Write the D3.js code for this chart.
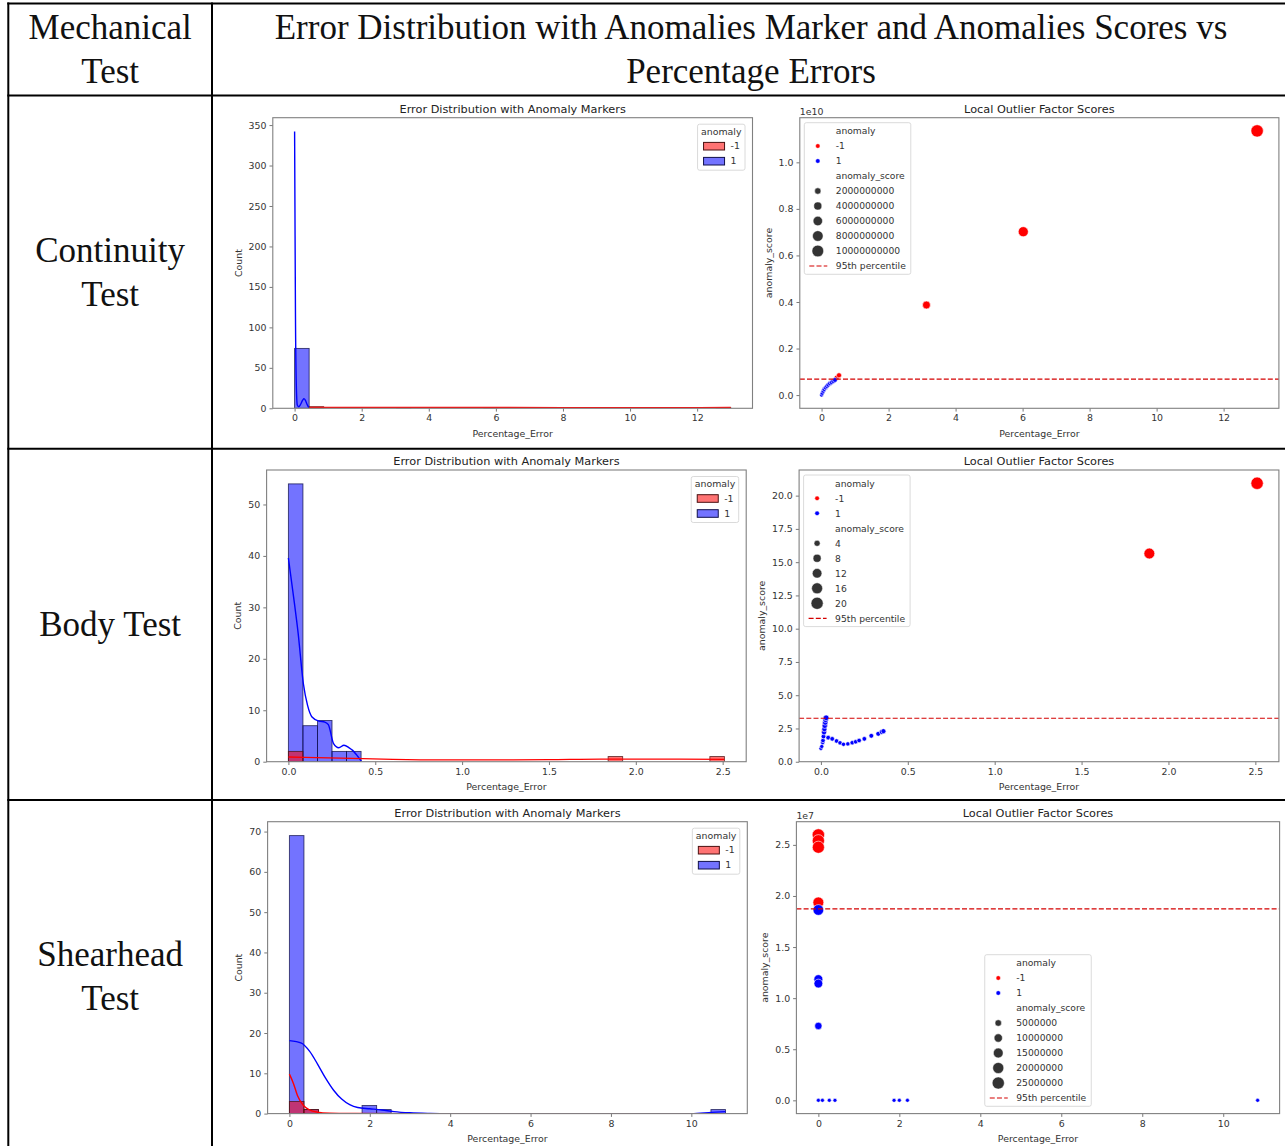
<!DOCTYPE html>
<html>
<head>
<meta charset="utf-8">
<script src="https://cdn.jsdelivr.net/npm/d3@7"></script>
<style>
body { margin: 0; background: #fff; }
</style>
</head>
<body>
<script>
// ---------- table text ----------
var headerLeft = ["Mechanical", "Test"];
var headerRight = ["Error Distribution with Anomalies Marker and Anomalies Scores vs", "Percentage Errors"];
var testNames = [["Continuity", "Test"], ["Body Test"], ["Shearhead", "Test"]];

var histTitle = "Error Distribution with Anomaly Markers";
var scatterTitle = "Local Outlier Factor Scores";
var hueLevels = ["-1", "1"];

// ---------- continuity test ----------
var contBinRange = [0, 13.0];
var contNormalCounts  = [74,0,0,0,0,0,0,0,0,0,0,0,0,0,0,0,0,0,0,0,0,0,0,0,0,0,0,0,0,0];
var contAnomalyCounts = [0,2,0,0,0,0,0,1,0,0,0,0,0,1,0,0,0,0,0,0,0,0,0,0,0,0,0,0,0,1];
var contNormalKdeX = [0, 0.01, 0.025, 0.05, 0.08, 0.12, 0.18, 0.24, 0.28, 0.32, 0.37, 0.42];
var contNormalKdeY = [342, 250, 120, 30, 4, 2, 5, 10, 12, 10, 5, 1];
var contAnomalyKdeX = [0.45, 1.5, 3.13, 4.5, 6.0, 8.0, 10.0, 12.0, 13.0];
var contAnomalyKdeY = [1.2, 1.0, 1.1, 0.9, 1.0, 0.8, 0.7, 0.8, 0.9];
var contHistXTicks = [0, 2, 4, 6, 8, 10, 12];
var contHistYTicks = [0, 50, 100, 150, 200, 250, 300, 350];

var contNormalErr   = [0, 0.02, 0.05, 0.08, 0.12, 0.16, 0.2, 0.25, 0.3, 0.35, 0.4];
var contNormalScore = [0, 0.8e8, 1.7e8, 2.5e8, 3.2e8, 3.8e8, 4.4e8, 5.0e8, 5.5e8, 6.0e8, 6.5e8];
var contAnomalyErr   = [0.45, 0.52, 3.13, 6.02, 13.0];
var contAnomalyScore = [7.5e8, 8.5e8, 3.87e9, 7.02e9, 1.135e10];
var contThreshold = 6.9e8;
var contSizeLegend = [2000000000, 4000000000, 6000000000, 8000000000, 10000000000];
var contScatterXTicks = [0, 2, 4, 6, 8, 10, 12];
var contScatterYTicks = [0, 2e9, 4e9, 6e9, 8e9, 1e10];

// ---------- body test ----------
var bodyBinRange = [0, 2.51];
var bodyNormalCounts  = [54,7,8,2,2,0,0,0,0,0,0,0,0,0,0,0,0,0,0,0,0,0,0,0,0,0,0,0,0,0];
var bodyAnomalyCounts = [2,0,0,0,0,0,0,0,0,0,0,0,0,0,0,0,0,0,0,0,0,0,1,0,0,0,0,0,0,1];
var bodyNormalKdeX = [0, 0.03, 0.056, 0.086, 0.11, 0.136, 0.176, 0.21, 0.23, 0.26, 0.29, 0.32, 0.35, 0.37, 0.40, 0.42];
var bodyNormalKdeY = [39.6, 32, 25, 15.2, 11, 8.7, 7.9, 7.7, 7.2, 3.5, 2.7, 3.2, 2.7, 2.2, 1.0, 0.1];
var bodyAnomalyKdeX = [0, 0.3, 0.6, 0.9, 1.2, 1.5, 1.8, 2.1, 2.51];
var bodyAnomalyKdeY = [0.9, 0.7, 0.45, 0.35, 0.35, 0.4, 0.5, 0.5, 0.45];
var bodyHistXTicks = [0, 0.5, 1.0, 1.5, 2.0, 2.5];
var bodyHistYTicks = [0, 10, 20, 30, 40, 50];

var bodyNormalErr   = [0.0, 0.005, 0.01, 0.012, 0.015, 0.018, 0.02, 0.022, 0.025, 0.027, 0.03, 0.042, 0.065, 0.09, 0.11, 0.13, 0.155, 0.18, 0.2, 0.22, 0.25, 0.29, 0.33, 0.35, 0.36];
var bodyNormalScore = [1.0, 1.15, 1.45, 1.6, 1.9, 2.2, 2.45, 2.7, 2.95, 3.15, 3.3, 1.81, 1.72, 1.56, 1.42, 1.31, 1.34, 1.43, 1.5, 1.6, 1.72, 1.95, 2.1, 2.24, 2.3];
var bodyAnomalyErr   = [0.018, 0.022, 1.89, 2.51];
var bodyAnomalyScore = [2.3, 2.75, 15.65, 20.93];
var bodyThreshold = 3.27;
var bodySizeLegend = [4, 8, 12, 16, 20];
var bodyScatterXTicks = [0, 0.5, 1.0, 1.5, 2.0, 2.5];
var bodyScatterYTicks = [0, 2.5, 5, 7.5, 10, 12.5, 15, 17.5, 20];

// ---------- shearhead test ----------
var shearBinRange = [0, 10.85];
var shearNormalCounts  = [69,1,0,0,0,2,1,0,0,0,0,0,0,0,0,0,0,0,0,0,0,0,0,0,0,0,0,0,0,1];
var shearAnomalyCounts = [3,1,0,0,0,0,0,0,0,0,0,0,0,0,0,0,0,0,0,0,0,0,0,0,0,0,0,0,0,0];
var shearNormalKdeX = [0, 0.3, 0.5, 0.7, 0.9, 1.1, 1.3, 1.5, 1.7, 2.0, 2.3, 2.6, 3.0, 3.5, 4.0, 10.0, 10.5, 10.85];
var shearNormalKdeY = [18.1, 17.5, 15.5, 12.3, 8.8, 5.8, 3.6, 2.2, 1.5, 1.2, 0.9, 0.5, 0.2, 0.05, 0, 0, 0.3, 0.5];
var shearAnomalyKdeX = [0, 0.1, 0.2, 0.35, 0.5, 0.7, 1.0, 1.5, 3.0, 10.85];
var shearAnomalyKdeY = [9.8, 7.5, 4.5, 2.0, 0.9, 0.35, 0.1, 0.02, 0, 0];
var shearHistXTicks = [0, 2, 4, 6, 8, 10];
var shearHistYTicks = [0, 10, 20, 30, 40, 50, 60, 70];

var shearNormalErr   = [0, 0, 0, 0, 0, 0.1, 0.27, 0.41, 1.87, 2.0, 2.2, 10.85];
var shearNormalScore = [1.863e7, 1.186e7, 1.143e7, 0.728e7, 0, 0, 0, 0, 0, 0, 0, 0];
var shearAnomalyErr   = [0, 0, 0, 0];
var shearAnomalyScore = [2.597e7, 2.54e7, 2.477e7, 1.937e7];
var shearThreshold = 1.874e7;
var shearSizeLegend = [5000000, 10000000, 15000000, 20000000, 25000000];
var shearScatterXTicks = [0, 2, 4, 6, 8, 10];
var shearScatterYTicks = [0, 5e6, 1e7, 1.5e7, 2e7, 2.5e7];

// ---------- page ----------
var W = 1285, H = 1146;
var serif = "'Liberation Serif', 'Times New Roman', serif";
var sans = "'DejaVu Sans', sans-serif";
var hueColor = {"-1": "red", "1": "blue"};

var svg = d3.select("body").append("svg").attr("width", W).attr("height", H);
svg.append("rect").attr("width", W).attr("height", H).attr("fill", "#fff");

// table grid
var colX = [8.3, 212, 1290];
var rowY = [3.5, 95.5, 448.7, 800, 1153];

function cellText(lines, cx, y0, y1) {
    var cy = (y0 + y1) / 2;
    lines.forEach(function(t, i) {
        svg.append("text")
            .attr("x", cx)
            .attr("y", cy + 11.5 - (lines.length - 1) * 22 + i * 44)
            .attr("text-anchor", "middle")
            .style("font-family", serif)
            .style("font-size", "35px")
            .attr("fill", "#111")
            .text(t);
    });
}

cellText(headerLeft, (colX[0] + colX[1]) / 2, rowY[0], rowY[1]);
cellText(headerRight, (colX[1] + colX[2]) / 2, rowY[0], rowY[1]);
testNames.forEach(function(lines, i) {
    cellText(lines, (colX[0] + colX[1]) / 2, rowY[i + 1], rowY[i + 2]);
});

var clipCount = 0;

function styleAxis(g) {
    g.select(".domain").remove();
    g.selectAll(".tick line").attr("stroke", "#555").attr("stroke-width", 0.8);
    g.selectAll(".tick text")
        .attr("fill", "#333")
        .style("font-family", sans)
        .style("font-size", "9.4px");
}

function addClip(box) {
    var id = "clip" + (clipCount++);
    svg.append("clipPath").attr("id", id).append("rect")
        .attr("x", box.left).attr("y", box.top)
        .attr("width", box.right - box.left).attr("height", box.bottom - box.top);
    return "url(#" + id + ")";
}

function axesDecor(box, x, y, p, kind) {
    var xAxis = d3.axisBottom(x).tickValues(p[kind + "XTicks"])
        .tickFormat(d3.format(p[kind + "FmtX"])).tickSize(3.3).tickPadding(3);
    var gx = svg.append("g").attr("transform", "translate(0," + box.bottom + ")").call(xAxis);
    styleAxis(gx);

    var div = kind == "scat" && p.offset ? p.offset : 1;
    var yAxis = d3.axisLeft(y).tickValues(p[kind + "YTicks"])
        .tickFormat(function(v) { return d3.format(p[kind + "FmtY"])(v / div); })
        .tickSize(3.3).tickPadding(3);
    var gy = svg.append("g").attr("transform", "translate(" + box.left + ",0)").call(yAxis);
    styleAxis(gy);
    var bb = gy.node().getBBox();

    // spines
    svg.append("rect")
        .attr("x", box.left).attr("y", box.top)
        .attr("width", box.right - box.left).attr("height", box.bottom - box.top)
        .attr("fill", "none").attr("stroke", "#808080").attr("stroke-width", 1.1);

    // title and labels
    svg.append("text")
        .attr("x", (box.left + box.right) / 2).attr("y", box.top - 5)
        .attr("text-anchor", "middle").attr("fill", "#222")
        .style("font-family", sans).style("font-size", "11.3px")
        .text(kind == "hist" ? histTitle : scatterTitle);
    svg.append("text")
        .attr("x", (box.left + box.right) / 2).attr("y", box.bottom + 28.5)
        .attr("text-anchor", "middle").attr("fill", "#333")
        .style("font-family", sans).style("font-size", "9.4px")
        .text("Percentage_Error");
    var lx = box.left + bb.x - 7;
    svg.append("text")
        .attr("transform", "translate(" + lx + "," + ((box.top + box.bottom) / 2) + ") rotate(-90)")
        .attr("text-anchor", "middle").attr("fill", "#333")
        .style("font-family", sans).style("font-size", "9.4px")
        .text(kind == "hist" ? "Count" : "anomaly_score");

    if (kind == "scat" && p.offsetLabel) {
        svg.append("text")
            .attr("x", box.left).attr("y", box.top - 3)
            .attr("fill", "#333")
            .style("font-family", sans).style("font-size", "9.4px")
            .text(p.offsetLabel);
    }
}

function drawHist(p) {
    var box = {left: p.hist[0], right: p.hist[1], top: p.top, bottom: p.bottom};
    var span = p.binRange[1] - p.binRange[0];
    var nb = p.normalCounts.length, bw = span / nb;
    var x = d3.scaleLinear()
        .domain([p.binRange[0] - span * 0.05, p.binRange[1] + span * 0.05])
        .range([box.left, box.right]);
    var ymax = d3.max([].concat(p.normalCounts, p.anomalyCounts, p.normalKdeY, p.anomalyKdeY)) * 1.05;
    var y = d3.scaleLinear().domain([0, ymax]).range([box.bottom, box.top]);

    var plot = svg.append("g").attr("clip-path", addClip(box));

    // blue layer first, red drawn on top
    [[p.normalCounts, "blue", "#10104a"], [p.anomalyCounts, "red", "#4a1010"]].forEach(function(layer) {
        var bins = layer[0].map(function(c, i) {
            return {x0: p.binRange[0] + i * bw, x1: p.binRange[0] + (i + 1) * bw, c: c};
        }).filter(function(b) { return b.c > 0; });
        plot.selectAll(null).data(bins).enter().append("rect")
            .attr("x", function(b) { return x(b.x0); })
            .attr("width", function(b) { return x(b.x1) - x(b.x0); })
            .attr("y", function(b) { return y(b.c); })
            .attr("height", function(b) { return y(0) - y(b.c); })
            .attr("fill", layer[1]).attr("fill-opacity", 0.55)
            .attr("stroke", layer[2]).attr("stroke-opacity", 0.8).attr("stroke-width", 0.9);
    });

    var line = d3.line()
        .x(function(d) { return x(d[0]); })
        .y(function(d) { return y(d[1]); })
        .curve(d3.curveMonotoneX);
    [[p.normalKdeX, p.normalKdeY, "blue"], [p.anomalyKdeX, p.anomalyKdeY, "red"]].forEach(function(k) {
        plot.append("path")
            .attr("d", line(d3.zip(k[0], k[1])))
            .attr("fill", "none").attr("stroke", k[2]).attr("stroke-width", 1.4);
    });

    axesDecor(box, x, y, p, "hist");

    // legend
    var lg = svg.append("g");
    var frame = lg.append("rect");
    var t = lg.append("text").attr("text-anchor", "middle").attr("fill", "#333")
        .style("font-family", sans).style("font-size", "9.4px").text("anomaly");
    var w = t.node().getComputedTextLength() + 7;
    var lx = box.right - 7.5 - w, ly = box.top + 6.5;
    frame.attr("x", lx).attr("y", ly).attr("width", w).attr("height", 46).attr("rx", 2)
        .attr("fill", "#fff").attr("fill-opacity", 0.8).attr("stroke", "#d0d0d0").attr("stroke-width", 0.8);
    t.attr("x", lx + w / 2).attr("y", ly + 7.5).attr("dy", "0.35em");
    hueLevels.forEach(function(h, i) {
        var cy = ly + 22 + i * 15;
        lg.append("rect").attr("x", lx + 6).attr("y", cy - 3.8).attr("width", 21).attr("height", 7.6)
            .attr("fill", hueColor[h]).attr("fill-opacity", 0.55)
            .attr("stroke", h == "-1" ? "#4a1010" : "#10104a").attr("stroke-width", 1);
        lg.append("text").attr("x", lx + 33).attr("y", cy).attr("dy", "0.35em").attr("fill", "#333")
            .style("font-family", sans).style("font-size", "9.4px").text(h);
    });
}

function drawScatter(p) {
    var box = {left: p.scat[0], right: p.scat[1], top: p.top, bottom: p.bottom};
    var allX = p.normalErr.concat(p.anomalyErr), allY = p.normalScore.concat(p.anomalyScore);
    var xe = d3.extent(allX), ye = d3.extent(allY);
    var px = (xe[1] - xe[0]) * 0.05, py = (ye[1] - ye[0]) * 0.05;
    var x = d3.scaleLinear().domain([xe[0] - px, xe[1] + px]).range([box.left, box.right]);
    var y = d3.scaleLinear().domain([ye[0] - py, ye[1] + py]).range([box.bottom, box.top]);
    var r = d3.scaleRadial().domain(ye).range([2, 6.2]);

    var plot = svg.append("g").attr("clip-path", addClip(box));

    var pts = p.anomalyErr.map(function(e, i) { return {x: e, y: p.anomalyScore[i], h: "-1"}; })
        .concat(p.normalErr.map(function(e, i) { return {x: e, y: p.normalScore[i], h: "1"}; }));
    plot.selectAll(null).data(pts).enter().append("circle")
        .attr("cx", function(d) { return x(d.x); })
        .attr("cy", function(d) { return y(d.y); })
        .attr("r", function(d) { return r(d.y); })
        .attr("fill", function(d) { return hueColor[d.h]; })
        .attr("stroke", "#fff").attr("stroke-width", 0.6);

    plot.append("line")
        .attr("x1", box.left).attr("x2", box.right)
        .attr("y1", y(p.threshold)).attr("y2", y(p.threshold))
        .attr("stroke", "#d40000").attr("stroke-width", 1.2).attr("stroke-dasharray", "5,2.2");

    axesDecor(box, x, y, p, "scat");

    // legend
    var entries = [{kind: "head", text: "anomaly"}]
        .concat(hueLevels.map(function(h) { return {kind: "hue", text: h, h: h}; }))
        .concat([{kind: "head", text: "anomaly_score"}])
        .concat(p.sizeLegend.map(function(v) { return {kind: "size", text: d3.format("d")(v), v: v}; }))
        .concat([{kind: "line", text: "95th percentile"}]);
    var lg = svg.append("g");
    var frame = lg.append("rect");
    var step = 15, pad = 8.3;
    var hgt = pad * 2 + step * (entries.length - 1);
    var texts = entries.map(function(e) {
        return lg.append("text").attr("fill", "#333").attr("dy", "0.35em")
            .style("font-family", sans).style("font-size", "9.2px").text(e.text);
    });
    var maxW = d3.max(texts, function(t) { return t.node().getComputedTextLength(); });
    var w = 31.5 + maxW + 5;
    var lx, ly;
    if (p.legend == "upper left") {
        lx = box.left + 4.5; ly = box.top + 5;
    } else {
        lx = (box.left + box.right) / 2 - w / 2; ly = box.bottom - 7.3 - hgt;
    }
    frame.attr("x", lx).attr("y", ly).attr("width", w).attr("height", hgt).attr("rx", 2)
        .attr("fill", "#fff").attr("fill-opacity", 0.8).attr("stroke", "#d0d0d0").attr("stroke-width", 0.8);
    entries.forEach(function(e, i) {
        var cy = ly + pad + i * step;
        texts[i].attr("x", lx + 31.5).attr("y", cy);
        if (e.kind == "hue") {
            lg.append("circle").attr("cx", lx + 13.5).attr("cy", cy).attr("r", 2.3)
                .attr("fill", hueColor[e.h]).attr("stroke", "#fff").attr("stroke-width", 0.5);
        } else if (e.kind == "size") {
            lg.append("circle").attr("cx", lx + 13.5).attr("cy", cy).attr("r", r(e.v))
                .attr("fill", "#333").attr("stroke", "#fff").attr("stroke-width", 0.5);
        } else if (e.kind == "line") {
            lg.append("line").attr("x1", lx + 5).attr("x2", lx + 23).attr("y1", cy).attr("y2", cy)
                .attr("stroke", "#d40000").attr("stroke-width", 1.2).attr("stroke-dasharray", "5,2.2");
        }
    });
}

// panel options built from the arrays above; boxes
var panels = [
    {top: 117.7, bottom: 408.3, hist: [272.8, 752.5], scat: [799.8, 1278.9], legend: "upper left",
     binRange: contBinRange, normalCounts: contNormalCounts, anomalyCounts: contAnomalyCounts,
     normalKdeX: contNormalKdeX, normalKdeY: contNormalKdeY, anomalyKdeX: contAnomalyKdeX, anomalyKdeY: contAnomalyKdeY,
     histXTicks: contHistXTicks, histYTicks: contHistYTicks, histFmtX: "d", histFmtY: "d",
     normalErr: contNormalErr, normalScore: contNormalScore, anomalyErr: contAnomalyErr, anomalyScore: contAnomalyScore,
     threshold: contThreshold, sizeLegend: contSizeLegend,
     scatXTicks: contScatterXTicks, scatYTicks: contScatterYTicks, scatFmtX: "d", scatFmtY: ".1f",
     offset: 1e10, offsetLabel: "1e10"},
    {top: 470, bottom: 761.7, hist: [266.6, 746.2], scat: [799.1, 1278.9], legend: "upper left",
     binRange: bodyBinRange, normalCounts: bodyNormalCounts, anomalyCounts: bodyAnomalyCounts,
     normalKdeX: bodyNormalKdeX, normalKdeY: bodyNormalKdeY, anomalyKdeX: bodyAnomalyKdeX, anomalyKdeY: bodyAnomalyKdeY,
     histXTicks: bodyHistXTicks, histYTicks: bodyHistYTicks, histFmtX: ".1f", histFmtY: "d",
     normalErr: bodyNormalErr, normalScore: bodyNormalScore, anomalyErr: bodyAnomalyErr, anomalyScore: bodyAnomalyScore,
     threshold: bodyThreshold, sizeLegend: bodySizeLegend,
     scatXTicks: bodyScatterXTicks, scatYTicks: bodyScatterYTicks, scatFmtX: ".1f", scatFmtY: ".1f",
     offset: null, offsetLabel: null},
    {top: 821.7, bottom: 1113.6, hist: [267.6, 747.3], scat: [796.4, 1279.6], legend: "lower center",
     binRange: shearBinRange, normalCounts: shearNormalCounts, anomalyCounts: shearAnomalyCounts,
     normalKdeX: shearNormalKdeX, normalKdeY: shearNormalKdeY, anomalyKdeX: shearAnomalyKdeX, anomalyKdeY: shearAnomalyKdeY,
     histXTicks: shearHistXTicks, histYTicks: shearHistYTicks, histFmtX: "d", histFmtY: "d",
     normalErr: shearNormalErr, normalScore: shearNormalScore, anomalyErr: shearAnomalyErr, anomalyScore: shearAnomalyScore,
     threshold: shearThreshold, sizeLegend: shearSizeLegend,
     scatXTicks: shearScatterXTicks, scatYTicks: shearScatterYTicks, scatFmtX: "d", scatFmtY: ".1f",
     offset: 1e7, offsetLabel: "1e7"}
];

panels.forEach(function(p) {
    drawHist(p);
    drawScatter(p);
});

// table lines drawn last so they sit on top
var grid = svg.append("g").attr("stroke", "#000").attr("stroke-width", 2);
rowY.forEach(function(yv) {
    grid.append("line").attr("x1", colX[0] - 1).attr("x2", colX[2]).attr("y1", yv).attr("y2", yv);
});
colX.forEach(function(xv) {
    grid.append("line").attr("x1", xv).attr("x2", xv).attr("y1", rowY[0] - 1).attr("y2", rowY[4]);
});
</script>
</body>
</html>
